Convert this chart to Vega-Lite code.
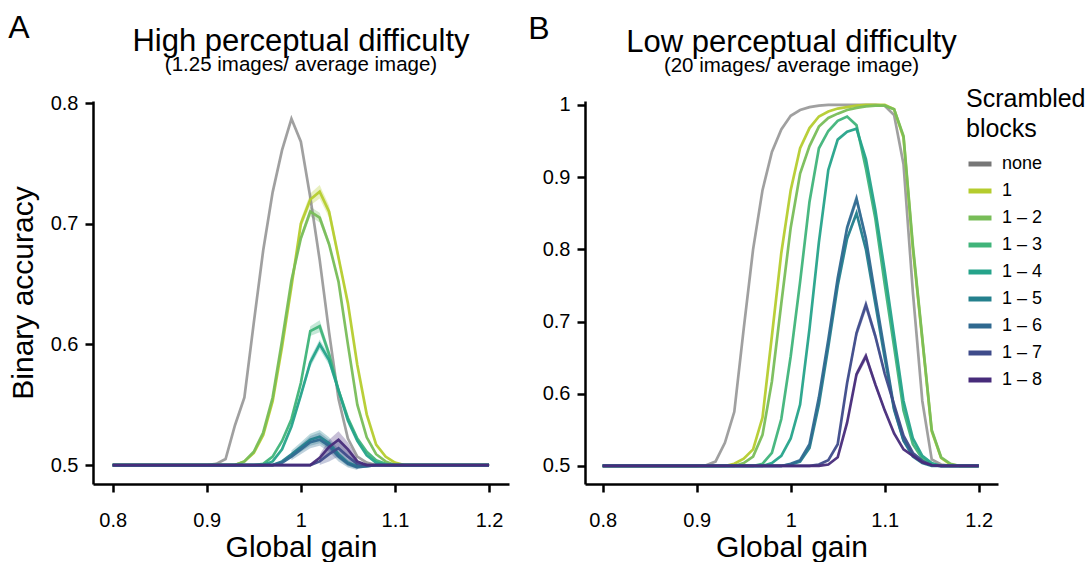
{
  "$schema": "https://vega.github.io/schema/vega-lite/v6.json",
  "padding": {"left": 8, "top": 11, "right": 0, "bottom": 0},
  "config": {
    "font": "Liberation Sans",
    "view": {"stroke": null},
    "axis": {"grid": false, "domainColor": "black", "domainWidth": 2.5, "tickColor": "black", "tickWidth": 2.5, "tickSize": 8, "labelFontSize": 20, "labelColor": "black", "labelPadding": 7, "titleFontSize": 30, "titleFontWeight": "normal", "titleColor": "black", "titlePadding": 12},
    "axisX": {"labelPadding": 18, "titlePadding": 2},
    "title": {"fontSize": 31, "fontWeight": "normal", "color": "black", "subtitleFontSize": 20.5, "subtitleColor": "black", "subtitlePadding": -3, "offset": 17},
    "legend": {"titleFontSize": 25, "titleFontWeight": "normal", "titleColor": "black", "titleLineHeight": 30, "labelFontSize": 18, "labelColor": "black", "symbolType": "stroke", "symbolStrokeWidth": 5, "symbolSize": 529, "symbolOpacity": 1, "rowPadding": 3, "labelOffset": 8, "titlePadding": 8, "orient": "none", "legendX": 873, "legendY": -14},
    "concat": {"spacing": 19}
  },
  "datasets": {
    "d": [
      {"p": "A", "s": "none", "x": 0.80, "y": 0.5},
      {"p": "A", "s": "none", "x": 0.90, "y": 0.5},
      {"p": "A", "s": "none", "x": 0.91, "y": 0.501},
      {"p": "A", "s": "none", "x": 0.92, "y": 0.505},
      {"p": "A", "s": "none", "x": 0.93, "y": 0.533},
      {"p": "A", "s": "none", "x": 0.94, "y": 0.556},
      {"p": "A", "s": "none", "x": 0.95, "y": 0.618},
      {"p": "A", "s": "none", "x": 0.96, "y": 0.678},
      {"p": "A", "s": "none", "x": 0.97, "y": 0.726},
      {"p": "A", "s": "none", "x": 0.98, "y": 0.761},
      {"p": "A", "s": "none", "x": 0.99, "y": 0.787},
      {"p": "A", "s": "none", "x": 1.00, "y": 0.768},
      {"p": "A", "s": "none", "x": 1.01, "y": 0.722},
      {"p": "A", "s": "none", "x": 1.02, "y": 0.670},
      {"p": "A", "s": "none", "x": 1.03, "y": 0.610},
      {"p": "A", "s": "none", "x": 1.04, "y": 0.555},
      {"p": "A", "s": "none", "x": 1.05, "y": 0.522},
      {"p": "A", "s": "none", "x": 1.06, "y": 0.507},
      {"p": "A", "s": "none", "x": 1.07, "y": 0.502},
      {"p": "A", "s": "none", "x": 1.08, "y": 0.5},
      {"p": "A", "s": "none", "x": 1.20, "y": 0.5},

      {"p": "A", "s": "1", "x": 0.80, "y": 0.5},
      {"p": "A", "s": "1", "x": 0.93, "y": 0.5},
      {"p": "A", "s": "1", "x": 0.94, "y": 0.503},
      {"p": "A", "s": "1", "x": 0.95, "y": 0.510},
      {"p": "A", "s": "1", "x": 0.96, "y": 0.525},
      {"p": "A", "s": "1", "x": 0.97, "y": 0.553},
      {"p": "A", "s": "1", "x": 0.98, "y": 0.598},
      {"p": "A", "s": "1", "x": 0.99, "y": 0.648, "lo": 0.646, "hi": 0.650},
      {"p": "A", "s": "1", "x": 1.00, "y": 0.700, "lo": 0.696, "hi": 0.704},
      {"p": "A", "s": "1", "x": 1.01, "y": 0.720, "lo": 0.715, "hi": 0.725},
      {"p": "A", "s": "1", "x": 1.02, "y": 0.7265, "lo": 0.721, "hi": 0.732},
      {"p": "A", "s": "1", "x": 1.03, "y": 0.710, "lo": 0.705, "hi": 0.715},
      {"p": "A", "s": "1", "x": 1.04, "y": 0.672, "lo": 0.668, "hi": 0.676},
      {"p": "A", "s": "1", "x": 1.05, "y": 0.634, "lo": 0.632, "hi": 0.636},
      {"p": "A", "s": "1", "x": 1.06, "y": 0.583},
      {"p": "A", "s": "1", "x": 1.07, "y": 0.542},
      {"p": "A", "s": "1", "x": 1.08, "y": 0.517},
      {"p": "A", "s": "1", "x": 1.09, "y": 0.507},
      {"p": "A", "s": "1", "x": 1.10, "y": 0.502},
      {"p": "A", "s": "1", "x": 1.11, "y": 0.5},
      {"p": "A", "s": "1", "x": 1.20, "y": 0.5},

      {"p": "A", "s": "1 – 2", "x": 0.80, "y": 0.5},
      {"p": "A", "s": "1 – 2", "x": 0.93, "y": 0.5},
      {"p": "A", "s": "1 – 2", "x": 0.94, "y": 0.503},
      {"p": "A", "s": "1 – 2", "x": 0.95, "y": 0.511},
      {"p": "A", "s": "1 – 2", "x": 0.96, "y": 0.527},
      {"p": "A", "s": "1 – 2", "x": 0.97, "y": 0.556},
      {"p": "A", "s": "1 – 2", "x": 0.98, "y": 0.603},
      {"p": "A", "s": "1 – 2", "x": 0.99, "y": 0.653, "lo": 0.651, "hi": 0.655},
      {"p": "A", "s": "1 – 2", "x": 1.00, "y": 0.688, "lo": 0.685, "hi": 0.691},
      {"p": "A", "s": "1 – 2", "x": 1.01, "y": 0.710, "lo": 0.706, "hi": 0.714},
      {"p": "A", "s": "1 – 2", "x": 1.02, "y": 0.705, "lo": 0.701, "hi": 0.709},
      {"p": "A", "s": "1 – 2", "x": 1.03, "y": 0.683, "lo": 0.680, "hi": 0.686},
      {"p": "A", "s": "1 – 2", "x": 1.04, "y": 0.652, "lo": 0.650, "hi": 0.654},
      {"p": "A", "s": "1 – 2", "x": 1.05, "y": 0.600},
      {"p": "A", "s": "1 – 2", "x": 1.06, "y": 0.550},
      {"p": "A", "s": "1 – 2", "x": 1.07, "y": 0.523},
      {"p": "A", "s": "1 – 2", "x": 1.08, "y": 0.509},
      {"p": "A", "s": "1 – 2", "x": 1.09, "y": 0.503},
      {"p": "A", "s": "1 – 2", "x": 1.10, "y": 0.5},
      {"p": "A", "s": "1 – 2", "x": 1.20, "y": 0.5},

      {"p": "A", "s": "1 – 3", "x": 0.80, "y": 0.5},
      {"p": "A", "s": "1 – 3", "x": 0.95, "y": 0.5},
      {"p": "A", "s": "1 – 3", "x": 0.96, "y": 0.501},
      {"p": "A", "s": "1 – 3", "x": 0.97, "y": 0.507},
      {"p": "A", "s": "1 – 3", "x": 0.98, "y": 0.520},
      {"p": "A", "s": "1 – 3", "x": 0.99, "y": 0.538, "lo": 0.536, "hi": 0.540},
      {"p": "A", "s": "1 – 3", "x": 1.00, "y": 0.568, "lo": 0.565, "hi": 0.571},
      {"p": "A", "s": "1 – 3", "x": 1.01, "y": 0.611, "lo": 0.607, "hi": 0.615},
      {"p": "A", "s": "1 – 3", "x": 1.02, "y": 0.615, "lo": 0.610, "hi": 0.620},
      {"p": "A", "s": "1 – 3", "x": 1.03, "y": 0.592, "lo": 0.588, "hi": 0.596},
      {"p": "A", "s": "1 – 3", "x": 1.04, "y": 0.562, "lo": 0.559, "hi": 0.565},
      {"p": "A", "s": "1 – 3", "x": 1.05, "y": 0.539},
      {"p": "A", "s": "1 – 3", "x": 1.06, "y": 0.522},
      {"p": "A", "s": "1 – 3", "x": 1.07, "y": 0.511},
      {"p": "A", "s": "1 – 3", "x": 1.08, "y": 0.504},
      {"p": "A", "s": "1 – 3", "x": 1.09, "y": 0.501},
      {"p": "A", "s": "1 – 3", "x": 1.10, "y": 0.5},
      {"p": "A", "s": "1 – 3", "x": 1.20, "y": 0.5},

      {"p": "A", "s": "1 – 4", "x": 0.80, "y": 0.5},
      {"p": "A", "s": "1 – 4", "x": 0.96, "y": 0.5},
      {"p": "A", "s": "1 – 4", "x": 0.97, "y": 0.503},
      {"p": "A", "s": "1 – 4", "x": 0.98, "y": 0.513},
      {"p": "A", "s": "1 – 4", "x": 0.99, "y": 0.532, "lo": 0.530, "hi": 0.534},
      {"p": "A", "s": "1 – 4", "x": 1.00, "y": 0.558, "lo": 0.555, "hi": 0.561},
      {"p": "A", "s": "1 – 4", "x": 1.01, "y": 0.585, "lo": 0.581, "hi": 0.589},
      {"p": "A", "s": "1 – 4", "x": 1.02, "y": 0.600, "lo": 0.596, "hi": 0.604},
      {"p": "A", "s": "1 – 4", "x": 1.03, "y": 0.587, "lo": 0.583, "hi": 0.591},
      {"p": "A", "s": "1 – 4", "x": 1.04, "y": 0.562, "lo": 0.559, "hi": 0.565},
      {"p": "A", "s": "1 – 4", "x": 1.05, "y": 0.537},
      {"p": "A", "s": "1 – 4", "x": 1.06, "y": 0.520},
      {"p": "A", "s": "1 – 4", "x": 1.07, "y": 0.508},
      {"p": "A", "s": "1 – 4", "x": 1.08, "y": 0.502},
      {"p": "A", "s": "1 – 4", "x": 1.09, "y": 0.5},
      {"p": "A", "s": "1 – 4", "x": 1.20, "y": 0.5},

      {"p": "A", "s": "1 – 5", "x": 0.80, "y": 0.5},
      {"p": "A", "s": "1 – 5", "x": 0.97, "y": 0.5},
      {"p": "A", "s": "1 – 5", "x": 0.98, "y": 0.503},
      {"p": "A", "s": "1 – 5", "x": 0.99, "y": 0.509, "lo": 0.506, "hi": 0.512},
      {"p": "A", "s": "1 – 5", "x": 1.00, "y": 0.515, "lo": 0.511, "hi": 0.519},
      {"p": "A", "s": "1 – 5", "x": 1.01, "y": 0.521, "lo": 0.516, "hi": 0.526},
      {"p": "A", "s": "1 – 5", "x": 1.02, "y": 0.5235, "lo": 0.518, "hi": 0.529},
      {"p": "A", "s": "1 – 5", "x": 1.03, "y": 0.518, "lo": 0.513, "hi": 0.523},
      {"p": "A", "s": "1 – 5", "x": 1.04, "y": 0.509, "lo": 0.505, "hi": 0.513},
      {"p": "A", "s": "1 – 5", "x": 1.05, "y": 0.502, "lo": 0.499, "hi": 0.505},
      {"p": "A", "s": "1 – 5", "x": 1.06, "y": 0.499, "lo": 0.497, "hi": 0.501},
      {"p": "A", "s": "1 – 5", "x": 1.07, "y": 0.499},
      {"p": "A", "s": "1 – 5", "x": 1.08, "y": 0.5},
      {"p": "A", "s": "1 – 5", "x": 1.20, "y": 0.5},

      {"p": "A", "s": "1 – 6", "x": 0.80, "y": 0.5},
      {"p": "A", "s": "1 – 6", "x": 0.97, "y": 0.5},
      {"p": "A", "s": "1 – 6", "x": 0.98, "y": 0.502},
      {"p": "A", "s": "1 – 6", "x": 0.99, "y": 0.507, "lo": 0.504, "hi": 0.510},
      {"p": "A", "s": "1 – 6", "x": 1.00, "y": 0.513, "lo": 0.509, "hi": 0.517},
      {"p": "A", "s": "1 – 6", "x": 1.01, "y": 0.519, "lo": 0.514, "hi": 0.524},
      {"p": "A", "s": "1 – 6", "x": 1.02, "y": 0.521, "lo": 0.516, "hi": 0.527},
      {"p": "A", "s": "1 – 6", "x": 1.03, "y": 0.516, "lo": 0.511, "hi": 0.521},
      {"p": "A", "s": "1 – 6", "x": 1.04, "y": 0.507, "lo": 0.503, "hi": 0.511},
      {"p": "A", "s": "1 – 6", "x": 1.05, "y": 0.501, "lo": 0.498, "hi": 0.504},
      {"p": "A", "s": "1 – 6", "x": 1.06, "y": 0.498, "lo": 0.496, "hi": 0.500},
      {"p": "A", "s": "1 – 6", "x": 1.07, "y": 0.499},
      {"p": "A", "s": "1 – 6", "x": 1.08, "y": 0.5},
      {"p": "A", "s": "1 – 6", "x": 1.20, "y": 0.5},

      {"p": "A", "s": "1 – 7", "x": 0.80, "y": 0.5},
      {"p": "A", "s": "1 – 7", "x": 1.01, "y": 0.5},
      {"p": "A", "s": "1 – 7", "x": 1.02, "y": 0.503, "lo": 0.500, "hi": 0.506},
      {"p": "A", "s": "1 – 7", "x": 1.03, "y": 0.509, "lo": 0.503, "hi": 0.515},
      {"p": "A", "s": "1 – 7", "x": 1.04, "y": 0.514, "lo": 0.507, "hi": 0.521},
      {"p": "A", "s": "1 – 7", "x": 1.05, "y": 0.507, "lo": 0.502, "hi": 0.512},
      {"p": "A", "s": "1 – 7", "x": 1.06, "y": 0.501, "lo": 0.499, "hi": 0.504},
      {"p": "A", "s": "1 – 7", "x": 1.07, "y": 0.5},
      {"p": "A", "s": "1 – 7", "x": 1.20, "y": 0.5},

      {"p": "A", "s": "1 – 8", "x": 0.80, "y": 0.5},
      {"p": "A", "s": "1 – 8", "x": 1.01, "y": 0.5},
      {"p": "A", "s": "1 – 8", "x": 1.02, "y": 0.506, "lo": 0.503, "hi": 0.509},
      {"p": "A", "s": "1 – 8", "x": 1.03, "y": 0.515, "lo": 0.509, "hi": 0.521},
      {"p": "A", "s": "1 – 8", "x": 1.04, "y": 0.521, "lo": 0.514, "hi": 0.528},
      {"p": "A", "s": "1 – 8", "x": 1.05, "y": 0.513, "lo": 0.507, "hi": 0.519},
      {"p": "A", "s": "1 – 8", "x": 1.06, "y": 0.503, "lo": 0.500, "hi": 0.506},
      {"p": "A", "s": "1 – 8", "x": 1.07, "y": 0.5},
      {"p": "A", "s": "1 – 8", "x": 1.20, "y": 0.5},

      {"p": "B", "s": "none", "x": 0.80, "y": 0.5},
      {"p": "B", "s": "none", "x": 0.90, "y": 0.5},
      {"p": "B", "s": "none", "x": 0.91, "y": 0.501},
      {"p": "B", "s": "none", "x": 0.92, "y": 0.506},
      {"p": "B", "s": "none", "x": 0.93, "y": 0.532},
      {"p": "B", "s": "none", "x": 0.94, "y": 0.575},
      {"p": "B", "s": "none", "x": 0.95, "y": 0.690},
      {"p": "B", "s": "none", "x": 0.96, "y": 0.800},
      {"p": "B", "s": "none", "x": 0.97, "y": 0.882},
      {"p": "B", "s": "none", "x": 0.98, "y": 0.935},
      {"p": "B", "s": "none", "x": 0.99, "y": 0.966},
      {"p": "B", "s": "none", "x": 1.00, "y": 0.985},
      {"p": "B", "s": "none", "x": 1.01, "y": 0.993},
      {"p": "B", "s": "none", "x": 1.02, "y": 0.997},
      {"p": "B", "s": "none", "x": 1.03, "y": 0.999},
      {"p": "B", "s": "none", "x": 1.04, "y": 1.0},
      {"p": "B", "s": "none", "x": 1.09, "y": 1.0},
      {"p": "B", "s": "none", "x": 1.10, "y": 0.999},
      {"p": "B", "s": "none", "x": 1.11, "y": 0.986},
      {"p": "B", "s": "none", "x": 1.12, "y": 0.918},
      {"p": "B", "s": "none", "x": 1.13, "y": 0.740},
      {"p": "B", "s": "none", "x": 1.14, "y": 0.590},
      {"p": "B", "s": "none", "x": 1.15, "y": 0.509},
      {"p": "B", "s": "none", "x": 1.16, "y": 0.502},
      {"p": "B", "s": "none", "x": 1.17, "y": 0.5},
      {"p": "B", "s": "none", "x": 1.20, "y": 0.5},

      {"p": "B", "s": "1", "x": 0.80, "y": 0.5},
      {"p": "B", "s": "1", "x": 0.93, "y": 0.5},
      {"p": "B", "s": "1", "x": 0.94, "y": 0.503},
      {"p": "B", "s": "1", "x": 0.95, "y": 0.510},
      {"p": "B", "s": "1", "x": 0.96, "y": 0.523},
      {"p": "B", "s": "1", "x": 0.97, "y": 0.567},
      {"p": "B", "s": "1", "x": 0.98, "y": 0.680},
      {"p": "B", "s": "1", "x": 0.99, "y": 0.795},
      {"p": "B", "s": "1", "x": 1.00, "y": 0.882},
      {"p": "B", "s": "1", "x": 1.01, "y": 0.940},
      {"p": "B", "s": "1", "x": 1.02, "y": 0.968},
      {"p": "B", "s": "1", "x": 1.03, "y": 0.984},
      {"p": "B", "s": "1", "x": 1.04, "y": 0.991},
      {"p": "B", "s": "1", "x": 1.05, "y": 0.995},
      {"p": "B", "s": "1", "x": 1.06, "y": 0.997},
      {"p": "B", "s": "1", "x": 1.07, "y": 0.999},
      {"p": "B", "s": "1", "x": 1.08, "y": 1.0},
      {"p": "B", "s": "1", "x": 1.10, "y": 1.0},
      {"p": "B", "s": "1", "x": 1.11, "y": 0.994},
      {"p": "B", "s": "1", "x": 1.12, "y": 0.955},
      {"p": "B", "s": "1", "x": 1.13, "y": 0.800},
      {"p": "B", "s": "1", "x": 1.14, "y": 0.675},
      {"p": "B", "s": "1", "x": 1.15, "y": 0.548},
      {"p": "B", "s": "1", "x": 1.16, "y": 0.511},
      {"p": "B", "s": "1", "x": 1.17, "y": 0.502},
      {"p": "B", "s": "1", "x": 1.18, "y": 0.5},
      {"p": "B", "s": "1", "x": 1.20, "y": 0.5},

      {"p": "B", "s": "1 – 2", "x": 0.80, "y": 0.5},
      {"p": "B", "s": "1 – 2", "x": 0.94, "y": 0.5},
      {"p": "B", "s": "1 – 2", "x": 0.95, "y": 0.504},
      {"p": "B", "s": "1 – 2", "x": 0.96, "y": 0.513},
      {"p": "B", "s": "1 – 2", "x": 0.97, "y": 0.543},
      {"p": "B", "s": "1 – 2", "x": 0.98, "y": 0.617},
      {"p": "B", "s": "1 – 2", "x": 0.99, "y": 0.725},
      {"p": "B", "s": "1 – 2", "x": 1.00, "y": 0.830},
      {"p": "B", "s": "1 – 2", "x": 1.01, "y": 0.905},
      {"p": "B", "s": "1 – 2", "x": 1.02, "y": 0.943},
      {"p": "B", "s": "1 – 2", "x": 1.03, "y": 0.970},
      {"p": "B", "s": "1 – 2", "x": 1.04, "y": 0.982},
      {"p": "B", "s": "1 – 2", "x": 1.05, "y": 0.988},
      {"p": "B", "s": "1 – 2", "x": 1.06, "y": 0.993},
      {"p": "B", "s": "1 – 2", "x": 1.07, "y": 0.996},
      {"p": "B", "s": "1 – 2", "x": 1.08, "y": 0.998},
      {"p": "B", "s": "1 – 2", "x": 1.09, "y": 0.999},
      {"p": "B", "s": "1 – 2", "x": 1.10, "y": 0.999},
      {"p": "B", "s": "1 – 2", "x": 1.11, "y": 0.994},
      {"p": "B", "s": "1 – 2", "x": 1.12, "y": 0.957},
      {"p": "B", "s": "1 – 2", "x": 1.13, "y": 0.805},
      {"p": "B", "s": "1 – 2", "x": 1.14, "y": 0.677},
      {"p": "B", "s": "1 – 2", "x": 1.15, "y": 0.550},
      {"p": "B", "s": "1 – 2", "x": 1.16, "y": 0.512},
      {"p": "B", "s": "1 – 2", "x": 1.17, "y": 0.503},
      {"p": "B", "s": "1 – 2", "x": 1.18, "y": 0.5},
      {"p": "B", "s": "1 – 2", "x": 1.20, "y": 0.5},

      {"p": "B", "s": "1 – 3", "x": 0.80, "y": 0.5},
      {"p": "B", "s": "1 – 3", "x": 0.96, "y": 0.5},
      {"p": "B", "s": "1 – 3", "x": 0.97, "y": 0.503},
      {"p": "B", "s": "1 – 3", "x": 0.98, "y": 0.518},
      {"p": "B", "s": "1 – 3", "x": 0.99, "y": 0.565},
      {"p": "B", "s": "1 – 3", "x": 1.00, "y": 0.652},
      {"p": "B", "s": "1 – 3", "x": 1.01, "y": 0.755},
      {"p": "B", "s": "1 – 3", "x": 1.02, "y": 0.866},
      {"p": "B", "s": "1 – 3", "x": 1.03, "y": 0.940},
      {"p": "B", "s": "1 – 3", "x": 1.04, "y": 0.964},
      {"p": "B", "s": "1 – 3", "x": 1.05, "y": 0.978},
      {"p": "B", "s": "1 – 3", "x": 1.06, "y": 0.984},
      {"p": "B", "s": "1 – 3", "x": 1.07, "y": 0.972},
      {"p": "B", "s": "1 – 3", "x": 1.08, "y": 0.912},
      {"p": "B", "s": "1 – 3", "x": 1.09, "y": 0.843},
      {"p": "B", "s": "1 – 3", "x": 1.10, "y": 0.752},
      {"p": "B", "s": "1 – 3", "x": 1.11, "y": 0.665},
      {"p": "B", "s": "1 – 3", "x": 1.12, "y": 0.577},
      {"p": "B", "s": "1 – 3", "x": 1.13, "y": 0.530},
      {"p": "B", "s": "1 – 3", "x": 1.14, "y": 0.510},
      {"p": "B", "s": "1 – 3", "x": 1.15, "y": 0.502},
      {"p": "B", "s": "1 – 3", "x": 1.16, "y": 0.5},
      {"p": "B", "s": "1 – 3", "x": 1.20, "y": 0.5},

      {"p": "B", "s": "1 – 4", "x": 0.80, "y": 0.5},
      {"p": "B", "s": "1 – 4", "x": 0.97, "y": 0.5},
      {"p": "B", "s": "1 – 4", "x": 0.98, "y": 0.504},
      {"p": "B", "s": "1 – 4", "x": 0.99, "y": 0.514},
      {"p": "B", "s": "1 – 4", "x": 1.00, "y": 0.538},
      {"p": "B", "s": "1 – 4", "x": 1.01, "y": 0.585},
      {"p": "B", "s": "1 – 4", "x": 1.02, "y": 0.690},
      {"p": "B", "s": "1 – 4", "x": 1.03, "y": 0.810},
      {"p": "B", "s": "1 – 4", "x": 1.04, "y": 0.910},
      {"p": "B", "s": "1 – 4", "x": 1.05, "y": 0.952},
      {"p": "B", "s": "1 – 4", "x": 1.06, "y": 0.963},
      {"p": "B", "s": "1 – 4", "x": 1.07, "y": 0.967},
      {"p": "B", "s": "1 – 4", "x": 1.08, "y": 0.925},
      {"p": "B", "s": "1 – 4", "x": 1.09, "y": 0.855},
      {"p": "B", "s": "1 – 4", "x": 1.10, "y": 0.770},
      {"p": "B", "s": "1 – 4", "x": 1.11, "y": 0.680},
      {"p": "B", "s": "1 – 4", "x": 1.12, "y": 0.590},
      {"p": "B", "s": "1 – 4", "x": 1.13, "y": 0.538},
      {"p": "B", "s": "1 – 4", "x": 1.14, "y": 0.514},
      {"p": "B", "s": "1 – 4", "x": 1.15, "y": 0.504},
      {"p": "B", "s": "1 – 4", "x": 1.16, "y": 0.5},
      {"p": "B", "s": "1 – 4", "x": 1.20, "y": 0.5},

      {"p": "B", "s": "1 – 5", "x": 0.80, "y": 0.5},
      {"p": "B", "s": "1 – 5", "x": 0.99, "y": 0.5},
      {"p": "B", "s": "1 – 5", "x": 1.00, "y": 0.502},
      {"p": "B", "s": "1 – 5", "x": 1.01, "y": 0.506},
      {"p": "B", "s": "1 – 5", "x": 1.02, "y": 0.525},
      {"p": "B", "s": "1 – 5", "x": 1.03, "y": 0.585},
      {"p": "B", "s": "1 – 5", "x": 1.04, "y": 0.665, "lo": 0.662, "hi": 0.668},
      {"p": "B", "s": "1 – 5", "x": 1.05, "y": 0.750, "lo": 0.746, "hi": 0.754},
      {"p": "B", "s": "1 – 5", "x": 1.06, "y": 0.815, "lo": 0.811, "hi": 0.819},
      {"p": "B", "s": "1 – 5", "x": 1.07, "y": 0.850, "lo": 0.845, "hi": 0.855},
      {"p": "B", "s": "1 – 5", "x": 1.08, "y": 0.800, "lo": 0.796, "hi": 0.804},
      {"p": "B", "s": "1 – 5", "x": 1.09, "y": 0.725, "lo": 0.722, "hi": 0.728},
      {"p": "B", "s": "1 – 5", "x": 1.10, "y": 0.650},
      {"p": "B", "s": "1 – 5", "x": 1.11, "y": 0.578},
      {"p": "B", "s": "1 – 5", "x": 1.12, "y": 0.535},
      {"p": "B", "s": "1 – 5", "x": 1.13, "y": 0.513},
      {"p": "B", "s": "1 – 5", "x": 1.14, "y": 0.504},
      {"p": "B", "s": "1 – 5", "x": 1.15, "y": 0.5},
      {"p": "B", "s": "1 – 5", "x": 1.20, "y": 0.5},

      {"p": "B", "s": "1 – 6", "x": 0.80, "y": 0.5},
      {"p": "B", "s": "1 – 6", "x": 0.99, "y": 0.5},
      {"p": "B", "s": "1 – 6", "x": 1.00, "y": 0.503},
      {"p": "B", "s": "1 – 6", "x": 1.01, "y": 0.508},
      {"p": "B", "s": "1 – 6", "x": 1.02, "y": 0.530},
      {"p": "B", "s": "1 – 6", "x": 1.03, "y": 0.595},
      {"p": "B", "s": "1 – 6", "x": 1.04, "y": 0.675, "lo": 0.671, "hi": 0.679},
      {"p": "B", "s": "1 – 6", "x": 1.05, "y": 0.760, "lo": 0.754, "hi": 0.766},
      {"p": "B", "s": "1 – 6", "x": 1.06, "y": 0.830, "lo": 0.823, "hi": 0.837},
      {"p": "B", "s": "1 – 6", "x": 1.07, "y": 0.870, "lo": 0.862, "hi": 0.878},
      {"p": "B", "s": "1 – 6", "x": 1.08, "y": 0.815, "lo": 0.808, "hi": 0.822},
      {"p": "B", "s": "1 – 6", "x": 1.09, "y": 0.735, "lo": 0.730, "hi": 0.740},
      {"p": "B", "s": "1 – 6", "x": 1.10, "y": 0.658},
      {"p": "B", "s": "1 – 6", "x": 1.11, "y": 0.580},
      {"p": "B", "s": "1 – 6", "x": 1.12, "y": 0.536},
      {"p": "B", "s": "1 – 6", "x": 1.13, "y": 0.515},
      {"p": "B", "s": "1 – 6", "x": 1.14, "y": 0.505},
      {"p": "B", "s": "1 – 6", "x": 1.15, "y": 0.501},
      {"p": "B", "s": "1 – 6", "x": 1.16, "y": 0.5},
      {"p": "B", "s": "1 – 6", "x": 1.20, "y": 0.5},

      {"p": "B", "s": "1 – 7", "x": 0.80, "y": 0.5},
      {"p": "B", "s": "1 – 7", "x": 1.02, "y": 0.5},
      {"p": "B", "s": "1 – 7", "x": 1.03, "y": 0.502},
      {"p": "B", "s": "1 – 7", "x": 1.04, "y": 0.508},
      {"p": "B", "s": "1 – 7", "x": 1.05, "y": 0.530, "lo": 0.527, "hi": 0.533},
      {"p": "B", "s": "1 – 7", "x": 1.06, "y": 0.615, "lo": 0.610, "hi": 0.620},
      {"p": "B", "s": "1 – 7", "x": 1.07, "y": 0.684, "lo": 0.677, "hi": 0.691},
      {"p": "B", "s": "1 – 7", "x": 1.08, "y": 0.723, "lo": 0.715, "hi": 0.731},
      {"p": "B", "s": "1 – 7", "x": 1.09, "y": 0.680, "lo": 0.673, "hi": 0.687},
      {"p": "B", "s": "1 – 7", "x": 1.10, "y": 0.628, "lo": 0.623, "hi": 0.633},
      {"p": "B", "s": "1 – 7", "x": 1.11, "y": 0.585},
      {"p": "B", "s": "1 – 7", "x": 1.12, "y": 0.542},
      {"p": "B", "s": "1 – 7", "x": 1.13, "y": 0.518},
      {"p": "B", "s": "1 – 7", "x": 1.14, "y": 0.507},
      {"p": "B", "s": "1 – 7", "x": 1.15, "y": 0.501},
      {"p": "B", "s": "1 – 7", "x": 1.16, "y": 0.5},
      {"p": "B", "s": "1 – 7", "x": 1.20, "y": 0.5},

      {"p": "B", "s": "1 – 8", "x": 0.80, "y": 0.5},
      {"p": "B", "s": "1 – 8", "x": 1.03, "y": 0.5},
      {"p": "B", "s": "1 – 8", "x": 1.04, "y": 0.502},
      {"p": "B", "s": "1 – 8", "x": 1.05, "y": 0.512},
      {"p": "B", "s": "1 – 8", "x": 1.06, "y": 0.560, "lo": 0.557, "hi": 0.563},
      {"p": "B", "s": "1 – 8", "x": 1.07, "y": 0.627, "lo": 0.622, "hi": 0.632},
      {"p": "B", "s": "1 – 8", "x": 1.08, "y": 0.652, "lo": 0.646, "hi": 0.658},
      {"p": "B", "s": "1 – 8", "x": 1.09, "y": 0.613, "lo": 0.608, "hi": 0.618},
      {"p": "B", "s": "1 – 8", "x": 1.10, "y": 0.577, "lo": 0.573, "hi": 0.581},
      {"p": "B", "s": "1 – 8", "x": 1.11, "y": 0.545},
      {"p": "B", "s": "1 – 8", "x": 1.12, "y": 0.523},
      {"p": "B", "s": "1 – 8", "x": 1.13, "y": 0.514},
      {"p": "B", "s": "1 – 8", "x": 1.14, "y": 0.505},
      {"p": "B", "s": "1 – 8", "x": 1.15, "y": 0.501},
      {"p": "B", "s": "1 – 8", "x": 1.16, "y": 0.5},
      {"p": "B", "s": "1 – 8", "x": 1.20, "y": 0.5}
    ]
  },
  "hconcat": [
    {
      "title": {"text": "A", "anchor": "start", "fontSize": 32, "offset": -19, "dx": 0},
      "hconcat": [
        {
          "width": 416, "height": 383,
          "title": {"text": "High perceptual difficulty", "subtitle": "(1.25 images/ average image)", "anchor": "middle"},
          "data": {"name": "d"},
          "transform": [{"filter": "datum.p === 'A'"}],
          "layer": [
            {
              "transform": [{"filter": "isValid(datum.lo)"}],
              "mark": {"type": "area", "opacity": 0.3},
              "encoding": {
                "x": {"field": "x", "type": "quantitative"},
                "y": {"field": "lo", "type": "quantitative"},
                "y2": {"field": "hi"},
                "color": {"field": "s", "type": "nominal"}
              }
            },
            {
              "mark": {"type": "line", "strokeWidth": 2.7},
              "encoding": {
                "x": {"field": "x", "type": "quantitative", "title": "Global gain",
                  "scale": {"domain": [0.7791, 1.2212], "nice": false, "zero": false},
                  "axis": {"values": [0.8, 0.9, 1, 1.1, 1.2], "format": "~g"}},
                "y": {"field": "y", "type": "quantitative", "title": "Binary accuracy",
                  "scale": {"domain": [0.4843, 0.8017], "nice": false, "zero": false},
                  "axis": {"values": [0.5, 0.6, 0.7, 0.8], "format": "~g"}},
                "color": {"field": "s", "type": "nominal",
                  "scale": {"domain": ["none", "1", "1 – 2", "1 – 3", "1 – 4", "1 – 5", "1 – 6", "1 – 7", "1 – 8"],
                    "range": ["#777777", "#b5cc2e", "#78bd58", "#40b47a", "#25a38a", "#24808d", "#2f6990", "#3e4b8a", "#472b7a"]},
                  "legend": {"title": ["Scrambled", "blocks"]}},
                "opacity": {"condition": {"test": "datum.s === 'none'", "value": 0.7}, "value": 0.95}
              }
            }
          ]
        }
      ]
    },
    {
      "title": {"text": "B", "anchor": "start", "fontSize": 32, "offset": -19, "dx": -14},
      "hconcat": [
        {
          "width": 413, "height": 383,
          "title": {"text": "Low perceptual difficulty", "subtitle": "(20 images/ average image)", "anchor": "middle"},
          "data": {"name": "d"},
          "transform": [{"filter": "datum.p === 'B'"}],
          "layer": [
            {
              "transform": [{"filter": "isValid(datum.lo)"}],
              "mark": {"type": "area", "opacity": 0.3},
              "encoding": {
                "x": {"field": "x", "type": "quantitative"},
                "y": {"field": "lo", "type": "quantitative"},
                "y2": {"field": "hi"},
                "color": {"field": "s", "type": "nominal"}
              }
            },
            {
              "mark": {"type": "line", "strokeWidth": 2.7},
              "encoding": {
                "x": {"field": "x", "type": "quantitative", "title": "Global gain",
                  "scale": {"domain": [0.7812, 1.2205], "nice": false, "zero": false},
                  "axis": {"values": [0.8, 0.9, 1, 1.1, 1.2], "format": "~g"}},
                "y": {"field": "y", "type": "quantitative", "title": null,
                  "scale": {"domain": [0.475, 1.0055], "nice": false, "zero": false},
                  "axis": {"values": [0.5, 0.6, 0.7, 0.8, 0.9, 1], "format": "~g"}},
                "color": {"field": "s", "type": "nominal"},
                "opacity": {"condition": {"test": "datum.s === 'none'", "value": 0.7}, "value": 0.95}
              }
            }
          ]
        }
      ]
    }
  ],
  "resolve": {"scale": {"color": "shared"}}
}
